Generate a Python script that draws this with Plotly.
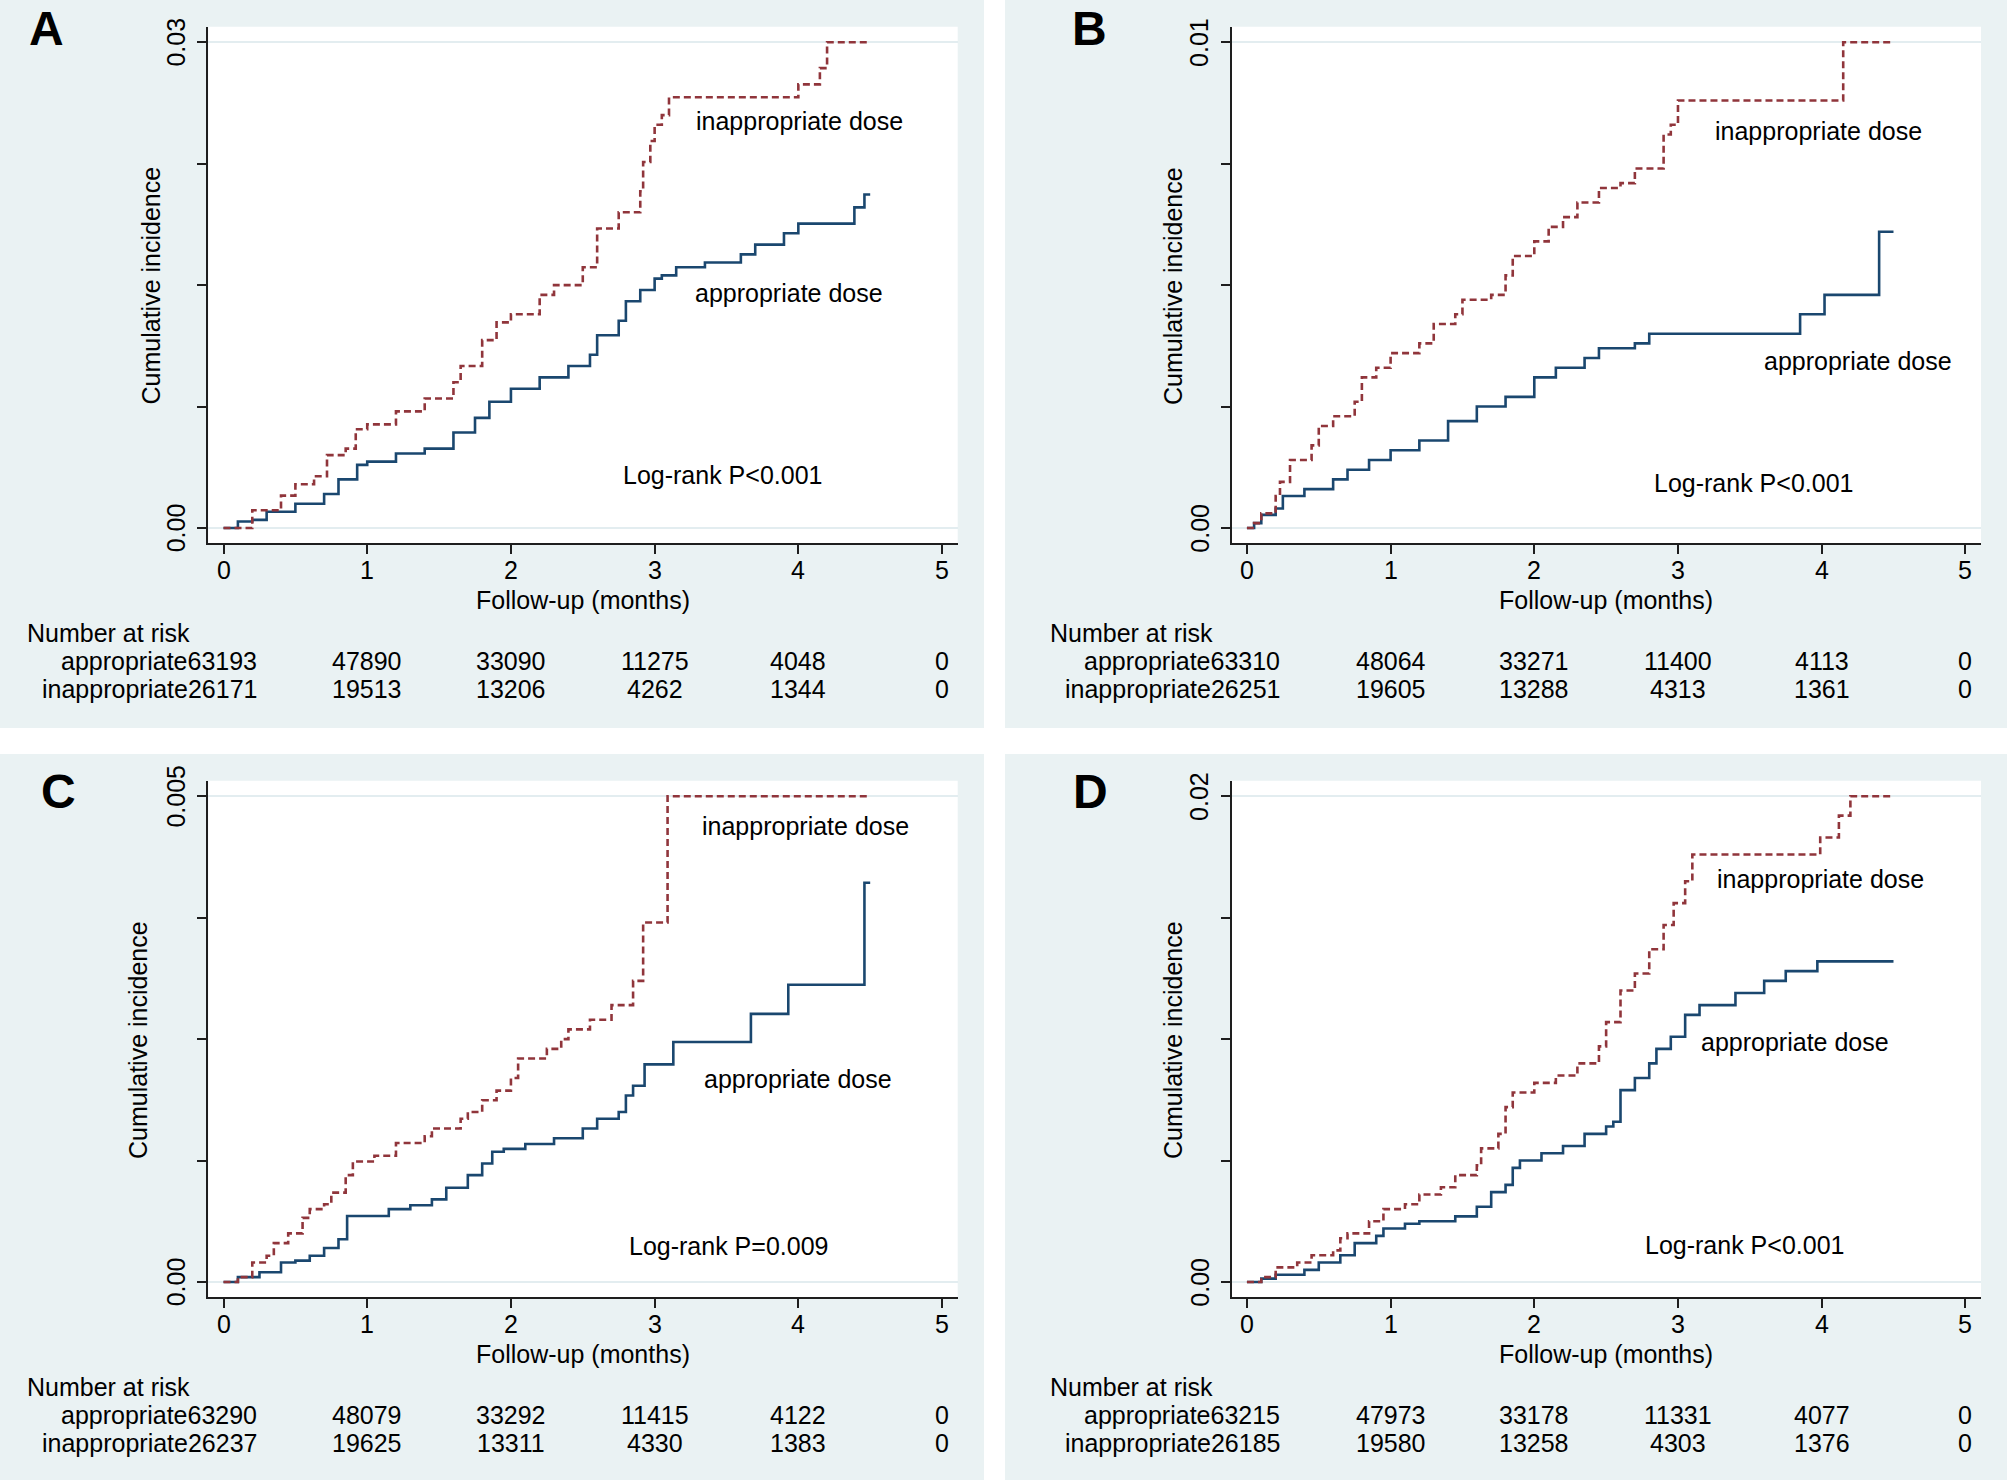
import plotly.graph_objects as go

W, H = 2007, 1480

# ---------------- data ----------------
panel_letters = ["A", "B", "C", "D"]
y_max = [0.03, 0.01, 0.005, 0.02]
y_max_labels = ["0.03", "0.01", "0.005", "0.02"]
logrank_text = ["Log-rank P<0.001", "Log-rank P<0.001", "Log-rank P=0.009", "Log-rank P<0.001"]
risk_times = [0, 1, 2, 3, 4, 5]
x_tick_vals = [0, 1, 2, 3, 4, 5]

# Panel A
a_app_t = [0, 0.1, 0.2, 0.3, 0.5, 0.7, 0.8, 0.93, 1.0, 1.2, 1.4, 1.6, 1.75, 1.85, 2.0, 2.2, 2.4, 2.55, 2.6,
           2.75, 2.8, 2.9, 3.0, 3.05, 3.15, 3.35, 3.6, 3.7, 3.9, 4.0, 4.39, 4.46, 4.5]
a_app_ci = [0, 0.0004, 0.0005, 0.001, 0.0015, 0.0021, 0.003, 0.0039, 0.0041, 0.0046, 0.0049, 0.0059, 0.0068,
            0.0078, 0.0086, 0.0093, 0.0100, 0.0107, 0.0119, 0.0128, 0.0140, 0.0147, 0.0154, 0.0156, 0.0161,
            0.0164, 0.0169, 0.0175, 0.0182, 0.0188, 0.0198, 0.0206, 0.0206]
a_inapp_t = [0, 0.2, 0.4, 0.5, 0.63, 0.72, 0.85, 0.92, 1.0, 1.2, 1.4, 1.6, 1.65, 1.8, 1.9, 2.0, 2.2, 2.3, 2.5,
             2.6, 2.75, 2.9, 2.92, 2.97, 3.0, 3.05, 3.1, 4.0, 4.15, 4.2, 4.5]
a_inapp_ci = [0, 0.0011, 0.002, 0.0027, 0.0032, 0.0045, 0.0049, 0.0061, 0.0064, 0.0072, 0.008, 0.009, 0.010,
              0.0116, 0.0127, 0.0132, 0.0144, 0.015, 0.0161, 0.0185, 0.0195, 0.0208, 0.0226, 0.0239, 0.0249,
              0.0255, 0.0266, 0.0274, 0.0284, 0.03, 0.03]
a_risk_app = [63193, 47890, 33090, 11275, 4048, 0]
a_risk_inapp = [26171, 19513, 13206, 4262, 1344, 0]

# Panel B
b_app_t = [0, 0.05, 0.1, 0.2, 0.25, 0.4, 0.6, 0.7, 0.85, 1.0, 1.2, 1.4, 1.6, 1.8, 2.0, 2.15, 2.35, 2.45, 2.7,
           2.8, 3.85, 4.02, 4.4, 4.5]
b_app_ci = [0, 0.0001, 0.00027, 0.0004, 0.00066, 0.0008, 0.001, 0.0012, 0.0014, 0.0016, 0.0018, 0.0022, 0.0025,
            0.0027, 0.0031, 0.0033, 0.0035, 0.0037, 0.0038, 0.004, 0.0044, 0.0048, 0.0061, 0.0061]
b_inapp_t = [0, 0.05, 0.1, 0.2, 0.23, 0.3, 0.45, 0.5, 0.6, 0.75, 0.8, 0.9, 1.0, 1.2, 1.3, 1.45, 1.5, 1.7, 1.8,
             1.85, 2.0, 2.1, 2.2, 2.3, 2.45, 2.6, 2.7, 2.9, 2.95, 3.0, 4.15, 4.5]
b_inapp_ci = [0, 0.0001, 0.0003, 0.00066, 0.00095, 0.0014, 0.0017, 0.0021, 0.0023, 0.0026, 0.0031, 0.0033,
              0.0036, 0.0038, 0.0042, 0.0044, 0.0047, 0.0048, 0.0052, 0.0056, 0.0059, 0.0062, 0.0064, 0.0067,
              0.007, 0.0071, 0.0074, 0.0081, 0.0083, 0.0088, 0.01, 0.01]
b_risk_app = [63310, 48064, 33271, 11400, 4113, 0]
b_risk_inapp = [26251, 19605, 13288, 4313, 1361, 0]

# Panel C
c_app_t = [0, 0.1, 0.25, 0.4, 0.5, 0.6, 0.7, 0.8, 0.86, 1.15, 1.3, 1.45, 1.55, 1.7, 1.8, 1.87, 1.95, 2.1, 2.3,
           2.5, 2.6, 2.75, 2.8, 2.85, 2.93, 3.13, 3.67, 3.93, 4.46, 4.5]
c_app_ci = [0, 0.00005, 0.0001, 0.0002, 0.00022, 0.00027, 0.00035, 0.00044, 0.00068, 0.00075, 0.00079, 0.00085,
            0.00097, 0.0011, 0.00122, 0.00134, 0.00137, 0.00142, 0.00148, 0.00158, 0.00168, 0.00175, 0.00192,
            0.00202, 0.00224, 0.00247, 0.00276, 0.00306, 0.00411, 0.00411]
c_inapp_t = [0, 0.1, 0.2, 0.3, 0.35, 0.45, 0.55, 0.6, 0.7, 0.75, 0.85, 0.9, 1.05, 1.2, 1.4, 1.45, 1.65, 1.7, 1.8,
             1.9, 2.0, 2.05, 2.25, 2.35, 2.4, 2.55, 2.7, 2.85, 2.92, 3.09, 4.5]
c_inapp_ci = [0, 0.00005, 0.0002, 0.00027, 0.0004, 0.0005, 0.00066, 0.00075, 0.0008, 0.00092, 0.0011, 0.00124,
              0.0013, 0.00143, 0.0015, 0.00158, 0.00168, 0.00175, 0.00187, 0.00197, 0.0021, 0.0023, 0.0024,
              0.0025, 0.0026, 0.0027, 0.00285, 0.0031, 0.0037, 0.005, 0.005]
c_risk_app = [63290, 48079, 33292, 11415, 4122, 0]
c_risk_inapp = [26237, 19625, 13311, 4330, 1383, 0]

# Panel D
d_app_t = [0, 0.1, 0.2, 0.4, 0.5, 0.65, 0.75, 0.9, 0.95, 1.1, 1.2, 1.45, 1.6, 1.7, 1.8, 1.85, 1.9, 2.05, 2.2,
           2.35, 2.5, 2.55, 2.6, 2.7, 2.8, 2.85, 2.95, 3.05, 3.15, 3.4, 3.6, 3.75, 3.97, 4.5]
d_app_ci = [0, 0.00014, 0.0003, 0.0005, 0.0008, 0.0011, 0.0016, 0.0019, 0.0022, 0.0024, 0.0025, 0.0027, 0.0031,
            0.0037, 0.004, 0.0047, 0.005, 0.0053, 0.0056, 0.0061, 0.0064, 0.0066, 0.0079, 0.0084, 0.009, 0.0096,
            0.0101, 0.011, 0.0114, 0.0119, 0.0124, 0.0128, 0.0132, 0.0132]
d_inapp_t = [0, 0.1, 0.2, 0.35, 0.45, 0.6, 0.65, 0.7, 0.85, 0.95, 1.1, 1.2, 1.35, 1.45, 1.6, 1.63, 1.75, 1.8,
             1.85, 2.0, 2.15, 2.3, 2.45, 2.5, 2.6, 2.7, 2.8, 2.9, 2.97, 3.05, 3.1, 3.99, 4.12, 4.2, 4.5]
d_inapp_ci = [0, 0.0002, 0.0006, 0.0008, 0.0011, 0.0013, 0.0018, 0.002, 0.0025, 0.003, 0.0032, 0.0036, 0.0039,
              0.0044, 0.0048, 0.0055, 0.0061, 0.0072, 0.0078, 0.0082, 0.0085, 0.009, 0.0097, 0.0107, 0.012,
              0.0127, 0.0137, 0.0147, 0.0156, 0.0165, 0.0176, 0.0183, 0.0192, 0.02, 0.02]
d_risk_app = [63215, 47973, 33178, 11331, 4077, 0]
d_risk_inapp = [26185, 19580, 13258, 4303, 1376, 0]

# label positions (data coords): (x_left, y as fraction of y_max)
label_inapp_pos = [(3.274, 0.8377), (3.247, 0.817), (3.314, 0.938), (3.26, 0.83)]
label_app_pos = [(3.27, 0.4843), (3.582, 0.343), (3.327, 0.418), (3.148, 0.494)]
label_lr_pos = [(2.764, 0.110), (2.822, 0.092), (2.808, 0.075), (2.755, 0.076)]

series = [
    (a_app_t, a_app_ci, a_inapp_t, a_inapp_ci, a_risk_app, a_risk_inapp),
    (b_app_t, b_app_ci, b_inapp_t, b_inapp_ci, b_risk_app, b_risk_inapp),
    (c_app_t, c_app_ci, c_inapp_t, c_inapp_ci, c_risk_app, c_risk_inapp),
    (d_app_t, d_app_ci, d_inapp_t, d_inapp_ci, d_risk_app, d_risk_inapp),
]

# ---------------- styling / layout ----------------
NAVY = "#1a476f"
MAROON = "#90353b"
BG = "#eaf2f3"
GRID = "#e3edf0"
AXIS = "#1e1e1e"
FONT = "Liberation Sans, Arial, sans-serif"
FS = 25


def px(x):
    return x / W


def py(y):
    return 1 - y / H


panel_rects = [(0, 0, 984, 728), (1005, 0, 2007, 728), (0, 754, 984, 1480), (1005, 754, 2007, 1480)]
axis_left = [208.3, 1231.7, 208.3, 1231.7]
axis_right = [957.7, 1981.0, 957.7, 1981.0]
yoff = [0, 0, 754, 754]
letter_pos = [(46, 28), (1089, 29), (58, 791), (1090, 791)]
ytitle_x = [150.5, 1173, 138, 1173]
nar_x = [25, 1048, 25, 1048]

PLOT_TOP, PLOT_BOT = 26.7, 543.0
X_RANGE = [-0.106, 5.109]

fig = go.Figure()
shapes = []
annotations = []
layout = {}

for i in range(4):
    n = "" if i == 0 else str(i + 1)
    xa, ya = "x" + n, "y" + n
    app_t, app_ci, inapp_t, inapp_ci, r_app, r_inapp = series[i]
    ym = y_max[i]
    off = yoff[i]

    # panel background + white plot region
    x0, y0, x1, y1 = panel_rects[i]
    shapes.append(dict(type="rect", xref="paper", yref="paper", x0=px(x0), x1=px(x1), y0=py(y1), y1=py(y0),
                       fillcolor=BG, line=dict(width=0), layer="below"))
    shapes.append(dict(type="rect", xref="paper", yref="paper", x0=px(axis_left[i]), x1=px(axis_right[i]),
                       y0=py(PLOT_BOT + off), y1=py(PLOT_TOP + off),
                       fillcolor="white", line=dict(width=0), layer="below"))

    fig.add_trace(go.Scatter(x=app_t, y=app_ci, mode="lines", xaxis=xa, yaxis=ya, showlegend=False,
                             line=dict(shape="hv", color=NAVY, width=2.6)))
    fig.add_trace(go.Scatter(x=inapp_t, y=inapp_ci, mode="lines", xaxis=xa, yaxis=ya, showlegend=False,
                             line=dict(shape="hv", color=MAROON, width=2.6, dash="7px,4px")))

    layout["xaxis" + n] = dict(
        domain=[px(axis_left[i]), px(axis_right[i])], anchor=ya, range=X_RANGE,
        tickvals=x_tick_vals, ticks="outside", ticklen=9, tickwidth=1.5, showticklabels=False,
        tickcolor=AXIS, showline=True, linecolor=AXIS, linewidth=2, showgrid=False, zeroline=False,
        fixedrange=True,
    )
    layout["yaxis" + n] = dict(
        domain=[py(PLOT_BOT + off), py(PLOT_TOP + off)], anchor=xa,
        range=[-0.0309 * ym, 1.032 * ym],
        tickvals=[0, ym], ticks="outside", ticklen=9, tickwidth=1.5, tickcolor=AXIS,
        showticklabels=False, showline=True, linecolor=AXIS, linewidth=2,
        showgrid=True, gridcolor=GRID, gridwidth=2, zeroline=False,
        minor=dict(tickvals=[ym * 0.25, ym * 0.5, ym * 0.75], ticks="outside", ticklen=9, tickwidth=1.5,
                   tickcolor=AXIS, showgrid=False),
        fixedrange=True,
    )

    tf = dict(family=FONT, size=FS, color="black")
    # x tick labels
    for t in x_tick_vals:
        annotations.append(dict(text=str(t), xref=xa, yref="paper", x=t, y=py(570 + off), showarrow=False,
                                font=tf, xanchor="center", yanchor="middle"))
    # y tick labels rotated
    for val, txt in [(0, "0.00"), (ym, y_max_labels[i])]:
        annotations.append(dict(text=txt, xref="paper", yref=ya, x=px(axis_left[i] - 32), y=val,
                                textangle=-90, showarrow=False, font=tf, xanchor="center", yanchor="middle"))
    annotations.append(dict(text="Cumulative incidence", xref="paper", yref="paper", x=px(ytitle_x[i]),
                            y=py(286 + off), textangle=-90, showarrow=False, font=tf,
                            xanchor="center", yanchor="middle"))
    annotations.append(dict(text="Follow-up (months)", xref=xa, yref="paper", x=2.5, y=py(600 + off),
                            showarrow=False, font=tf, xanchor="center", yanchor="middle"))
    annotations.append(dict(text="<b>" + panel_letters[i] + "</b>", xref="paper", yref="paper",
                            x=px(letter_pos[i][0]), y=py(letter_pos[i][1]), showarrow=False,
                            font=dict(family=FONT, size=48, color="black"), xanchor="center", yanchor="middle"))
    for (lx, ly), txt in [(label_inapp_pos[i], "inappropriate dose"), (label_app_pos[i], "appropriate dose"),
                          (label_lr_pos[i], logrank_text[i])]:
        annotations.append(dict(text=txt, xref=xa, yref=ya, x=lx, y=ly * ym, showarrow=False, font=tf,
                                xanchor="left", yanchor="middle"))
    annotations.append(dict(text="Number at risk", xref="paper", yref="paper", x=px(nar_x[i]), y=py(633 + off),
                            showarrow=False, font=tf, xanchor="left", yanchor="middle"))
    for row_y, name, vals in [(661, "appropriate", r_app), (689, "inappropriate", r_inapp)]:
        for j, (t, v) in enumerate(zip(risk_times, vals)):
            if j == 0:
                annotations.append(dict(text=name + str(v), xref=xa, yref="paper", x=t, y=py(row_y + off),
                                        showarrow=False, font=tf, xanchor="right", yanchor="middle",
                                        xshift=35))
            else:
                annotations.append(dict(text=str(v), xref=xa, yref="paper", x=t, y=py(row_y + off),
                                        showarrow=False, font=tf, xanchor="center", yanchor="middle"))

fig.update_layout(
    width=W, height=H, margin=dict(l=0, r=0, t=0, b=0),
    paper_bgcolor="white", plot_bgcolor="white",
    shapes=shapes, annotations=annotations, showlegend=False,
    font=dict(family=FONT, size=FS, color="black"),
    **layout,
)

fig.write_html("out.html", config={"displayModeBar": False},
               post_script="document.body.style.margin='0px';document.body.style.overflow='hidden';")
